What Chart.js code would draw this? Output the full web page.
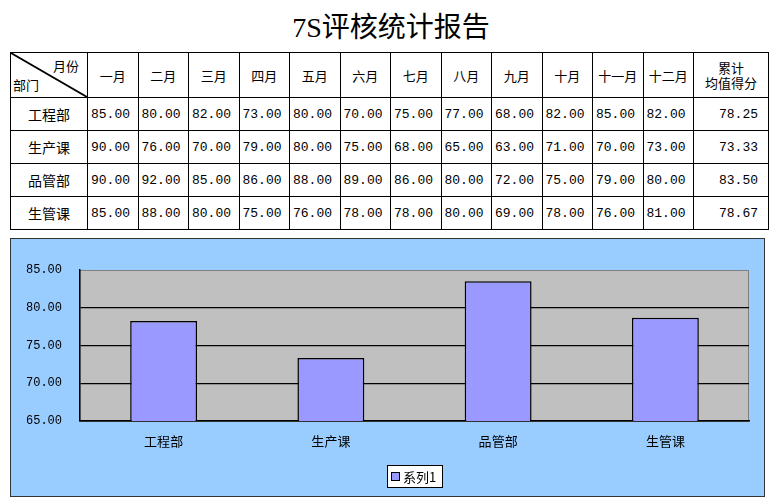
<!DOCTYPE html>
<html>
<head>
<meta charset="utf-8">
<script src="https://cdn.jsdelivr.net/npm/chart.js@4"></script>
<style>
    html, body { margin: 0; padding: 0; background: #fff; }
    body { width: 782px; height: 500px; position: relative; overflow: hidden; font-family: "Noto Sans CJK SC", sans-serif; }
    #title { position: absolute; left: 0; top: 9px; width: 782px; text-align: center; font: 28px "Liberation Serif", "Noto Sans CJK SC", serif; line-height: 38px; color: #000; }
    #report { position: absolute; left: 10px; top: 52px; border-collapse: collapse; table-layout: fixed; border: 1.5px solid #000; }
    #report td { border: 1px solid #000; padding: 0; height: 32px; font-size: 13px; color: #000; white-space: nowrap; }
    #report tr.head td { height: 44px; text-align: center; font-size: 13px; }
    #report td.dept { text-align: center; font-size: 14px; }
    #report td.num { text-align: left; padding-left: 3px; font-family: "Liberation Mono", monospace; font-size: 13px; }
    #report td.avg { text-align: right; padding-right: 10px; font-family: "Liberation Mono", monospace; font-size: 13px; }
    #report td.corner { position: relative; font-size: 12px; }
    .corner .tr { position: absolute; right: 8px; top: 3px; }
    .corner .bl { position: absolute; left: 2px; bottom: 3px; }
    #report td.sum { font-size: 12px; line-height: 15px; }
    #diag { position: absolute; left: 10px; top: 52px; z-index: 5; pointer-events: none; }
    #chartBox { position: absolute; left: 10px; top: 238px; width: 753px; height: 257px; background: #99CCFF; border: 1px solid #333; }
</style>
</head>
<body>
<div id="title">7S评核统计报告</div>
<table id="report"></table>
<canvas id="diag" width="78" height="46"></canvas>
<div id="chartBox"><canvas id="avgChart" width="753" height="257"></canvas></div>
<script>
var months = ["一月", "二月", "三月", "四月", "五月", "六月", "七月", "八月", "九月", "十月", "十一月", "十二月"];
var depts = ["工程部", "生产课", "品管部", "生管课"];
var scoresEng = [85, 80, 82, 73, 80, 70, 75, 77, 68, 82, 85, 82];
var scoresProd = [90, 76, 70, 79, 80, 75, 68, 65, 63, 71, 70, 73];
var scoresQc = [90, 92, 85, 86, 88, 89, 86, 80, 72, 75, 79, 80];
var scoresPc = [85, 88, 80, 75, 76, 78, 78, 80, 69, 78, 76, 81];
var avgScores = [78.25, 73.33, 83.50, 78.67];
var yTicks = [65, 70, 75, 80, 85];
var seriesName = "系列1";

// diagonal split line of the corner header cell
(function () {
    var g = document.getElementById("diag").getContext("2d");
    g.strokeStyle = "#000";
    g.lineWidth = 2;
    g.beginPath();
    g.moveTo(1, 1);
    g.lineTo(77, 45);
    g.stroke();
})();

(function () {
    var rows = [scoresEng, scoresProd, scoresQc, scoresPc];
    var html = '<colgroup><col style="width:77px">';
    for (var i = 0; i < months.length; i++) {
        html += '<col style="width:50.5px">';
    }
    html += '<col style="width:75px"></colgroup>';

    html += '<tr class="head"><td class="corner">' +
        '<span class="tr">月份</span><span class="bl">部门</span></td>';
    months.forEach(function (m) {
        html += '<td>' + m + '</td>';
    });
    html += '<td class="sum">累计<br>均值得分</td></tr>';

    rows.forEach(function (row, r) {
        html += '<tr><td class="dept">' + depts[r] + '</td>';
        row.forEach(function (v) {
            html += '<td class="num">' + v.toFixed(2) + '</td>';
        });
        html += '<td class="avg">' + avgScores[r].toFixed(2) + '</td></tr>';
    });
    document.getElementById("report").innerHTML = html;
})();

// gray plot area + gray frame, drawn under the bars
var plotBackground = {
    id: "plotBackground",
    beforeDraw: function (chart) {
        var a = chart.chartArea, ctx = chart.ctx;
        ctx.save();
        ctx.fillStyle = "#C0C0C0";
        ctx.fillRect(a.left, a.top, a.right - a.left, a.bottom - a.top);
        ctx.strokeStyle = "#808080";
        ctx.lineWidth = 1;
        ctx.strokeRect(a.left, a.top + 0.5, a.right - a.left - 0.5, a.bottom - a.top);
        ctx.restore();
    }
};

// boxed legend like the spreadsheet one
var boxLegend = {
    id: "boxLegend",
    afterDraw: function (chart) {
        var ctx = chart.ctx;
        var ds = chart.data.datasets[0];
        var x = 376, y = 226, w = 55, h = 22;
        ctx.save();
        ctx.fillStyle = "#fff";
        ctx.fillRect(x, y, w, h);
        ctx.strokeStyle = "#000";
        ctx.lineWidth = 1;
        ctx.strokeRect(x + 0.5, y + 0.5, w, h);
        ctx.fillStyle = ds.backgroundColor;
        ctx.fillRect(x + 4.5, y + 7.5, 8, 8);
        ctx.strokeRect(x + 4.5, y + 7.5, 8, 8);
        ctx.fillStyle = "#000";
        ctx.font = '13px "Noto Sans CJK SC"';
        ctx.textBaseline = "middle";
        ctx.fillText(ds.label, x + 16, y + h / 2 + 1);
        ctx.restore();
    }
};

new Chart(document.getElementById("avgChart"), {
    type: "bar",
    data: {
        labels: depts,
        datasets: [{
            label: seriesName,
            data: avgScores,
            backgroundColor: "#9999FF",
            borderColor: "#000",
            borderWidth: 1.5,
            barPercentage: 0.4,
            categoryPercentage: 1
        }]
    },
    plugins: [plotBackground, boxLegend],
    options: {
        responsive: false,
        animation: false,
        layout: {padding: {left: 9, top: 31, right: 15, bottom: 0}},
        plugins: {
            legend: {display: false},
            tooltip: {enabled: false}
        },
        scales: {
            x: {
                grid: {display: false},
                border: {display: true, color: "#000", width: 1.5},
                ticks: {color: "#000", font: {size: 13, family: "Noto Sans CJK SC"}, padding: 4},
                afterFit: function (scale) { scale.height = 75; }
            },
            y: {
                min: 65,
                max: 85,
                afterBuildTicks: function (scale) {
                    scale.ticks = yTicks.map(function (v) { return {value: v}; });
                },
                grid: {
                    drawTicks: false,
                    color: function (c) { return c.tick && c.tick.value === 85 ? "rgba(0,0,0,0)" : "#000"; },
                    lineWidth: 1.2
                },
                border: {display: true, color: "#000", width: 1.5},
                ticks: {
                    color: "#000",
                    padding: 18,
                    font: {size: 12, family: "Liberation Mono"},
                    callback: function (v) { return Number(v).toFixed(2); }
                },
                afterFit: function (scale) { scale.width = 60; }
            }
        }
    }
});
</script>
</body>
</html>
